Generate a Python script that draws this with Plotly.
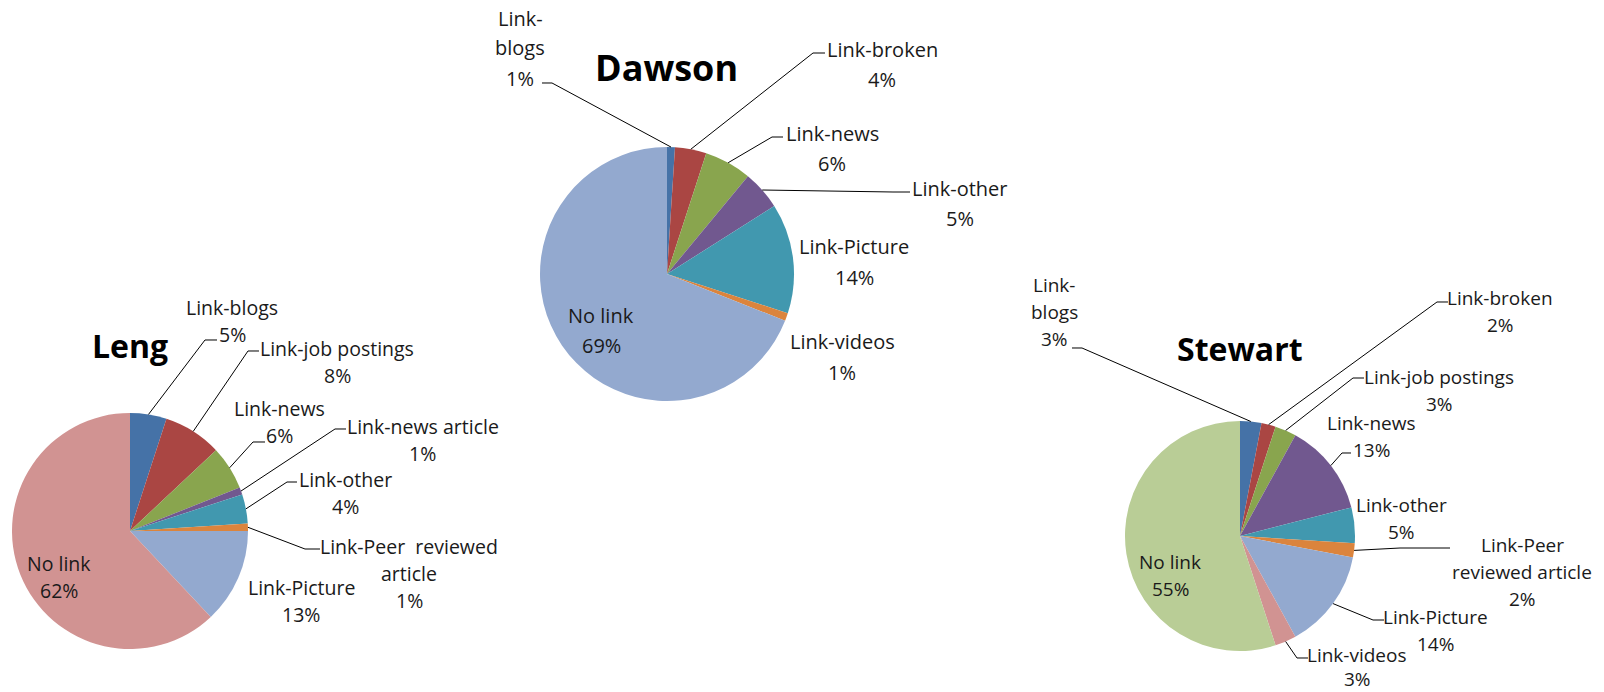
import math
import plotly.graph_objects as go

W, H = 1604, 692

# ---------------- data ----------------
titles = ["Leng", "Dawson", "Stewart"]

leng_labels = ["Link-blogs", "Link-job postings", "Link-news", "Link-news article",
               "Link-other", "Link-Peer reviewed article", "Link-Picture", "No link"]
leng_values = [5, 8, 6, 1, 4, 1, 13, 62]

dawson_labels = ["Link-blogs", "Link-broken", "Link-news", "Link-other",
                 "Link-Picture", "Link-videos", "No link"]
dawson_values = [1, 4, 6, 5, 14, 1, 69]

stewart_labels = ["Link-blogs", "Link-broken", "Link-job postings", "Link-news", "Link-other",
                  "Link-Peer reviewed article", "Link-Picture", "Link-videos", "No link"]
stewart_values = [3, 2, 3, 13, 5, 2, 14, 3, 55]

# ---------------- style / layout ----------------
palette = ["#4572A7", "#AA4643", "#89A54E", "#71588F", "#4198AF",
           "#DB843D", "#93A9CF", "#D19392", "#B9CD96"]
FONT = "Open Sans, Lato, sans-serif"
TXT = "#1a1a1a"

# pie geometry in pixels: centre x, centre y, radius, label font size, line spacing, title pos/size
pies = [
    dict(name="Leng", labels=leng_labels, values=leng_values, cx=130, cy=531, r=118,
         fs=19.5, sp=27, title_xy=(130, 345), tfs=32),
    dict(name="Dawson", labels=dawson_labels, values=dawson_values, cx=667, cy=274, r=127,
         fs=20, sp=30, title_xy=(666, 67), tfs=36),
    dict(name="Stewart", labels=stewart_labels, values=stewart_values, cx=1240, cy=536, r=115,
         fs=19, sp=27, title_xy=(1240, 348), tfs=32),
]

# label placement: x centre, y of first line, wrapped name lines, leader (elbow, end) or None
label_pos = {
    "Leng": {
        "Link-blogs": (232, 307, ["Link-blogs"], ((205, 340), (217, 340))),
        "Link-job postings": (337, 348, ["Link-job postings"], ((248, 351), (259, 351))),
        "Link-news": (279, 408, ["Link-news"], ((253, 442), (265, 442))),
        "Link-news article": (423, 426, ["Link-news article"], ((335, 429), (346, 429))),
        "Link-other": (345, 479, ["Link-other"], ((287, 482), (297, 482))),
        "Link-Peer reviewed article": (409, 546, ["Link-Peer  reviewed", "article"],
                                       ((305, 549), (320, 549))),
        "Link-Picture": (301, 587, ["Link-Picture"], None),
        "No link": (59, 563, ["No link"], None),
    },
    "Dawson": {
        "Link-blogs": (520, 18, ["Link-", "blogs"], ((552, 83), (542, 83))),
        "Link-broken": (882, 50, ["Link-broken"], ((813, 53), (825, 53))),
        "Link-news": (832, 133, ["Link-news"], ((772, 137), (783, 137))),
        "Link-other": (960, 188, ["Link-other"], ((893, 192), (910, 192))),
        "Link-Picture": (854, 247, ["Link-Picture"], None),
        "Link-videos": (842, 342, ["Link-videos"], None),
        "No link": (601, 315, ["No link"], None),
    },
    "Stewart": {
        "Link-blogs": (1054, 285, ["Link-", "blogs"], ((1082, 348), (1072, 348))),
        "Link-broken": (1500, 298, ["Link-broken"], ((1437, 302), (1448, 302))),
        "Link-job postings": (1439, 377, ["Link-job postings"], ((1353, 378), (1364, 378))),
        "Link-news": (1371, 423, ["Link-news"], ((1342, 453), (1351, 453))),
        "Link-other": (1401, 505, ["Link-other"], None),
        "Link-Peer reviewed article": (1522, 545, ["Link-Peer", "reviewed article"],
                                       ((1400, 548), (1450, 548))),
        "Link-Picture": (1435, 617, ["Link-Picture"], ((1373, 620), (1384, 620))),
        "Link-videos": (1357, 655, ["Link-videos"], ((1297, 658), (1308, 658))),
        "No link": (1170, 562, ["No link"], None),
    },
}


def px(x):
    return x / W


def py(y):
    return 1 - y / H


fig = go.Figure()
annotations = []
shapes = []

for p in pies:
    cx, cy, r = p["cx"], p["cy"], p["r"]
    fig.add_trace(go.Pie(
        labels=p["labels"], values=p["values"],
        domain=dict(x=[px(cx - r), px(cx + r)], y=[py(cy + r), py(cy - r)]),
        sort=False, direction="clockwise", rotation=0,
        marker=dict(colors=palette[:len(p["values"])], line=dict(width=0)),
        textinfo="none", showlegend=False, hoverinfo="label+percent",
    ))
    tx, ty = p["title_xy"]
    annotations.append(dict(x=px(tx), y=py(ty), xref="paper", yref="paper",
                            text="<b>%s</b>" % p["name"], showarrow=False,
                            xanchor="center", yanchor="middle",
                            font=dict(family=FONT, size=p["tfs"], color="#000000")))
    total = sum(p["values"])
    cum = 0
    for lab, val in zip(p["labels"], p["values"]):
        mid = (cum + val / 2) / total * 2 * math.pi
        cum += val
        x0, y0, lines, leader = label_pos[p["name"]][lab]
        pct = "%d%%" % round(val / total * 100)
        items = lines + [pct]
        for i, t in enumerate(items):
            yy = y0 + i * p["sp"]
            if p["name"] == "Stewart" and lab == "Link-videos" and i == len(items) - 1:
                yy -= 3
            annotations.append(dict(x=px(x0), y=py(yy), xref="paper", yref="paper",
                                    text=t, showarrow=False, xanchor="center", yanchor="middle",
                                    font=dict(family=FONT, size=p["fs"], color=TXT)))
        if leader is not None:
            ax = cx + r * math.sin(mid)
            ay = cy - r * math.cos(mid)
            (ex, ey), (fx, fy) = leader
            path = "M %f,%f L %f,%f L %f,%f" % (px(ax), py(ay), px(ex), py(ey), px(fx), py(fy))
            shapes.append(dict(type="path", xref="paper", yref="paper", path=path,
                               line=dict(color="#000000", width=1)))

fig.update_layout(
    width=W, height=H, margin=dict(l=0, r=0, t=0, b=0),
    paper_bgcolor="white", plot_bgcolor="white",
    annotations=annotations, shapes=shapes,
)

fig.write_html("out.html", config={"displayModeBar": False},
               post_script="document.body.style.margin='0px';document.body.style.overflow='hidden';")
